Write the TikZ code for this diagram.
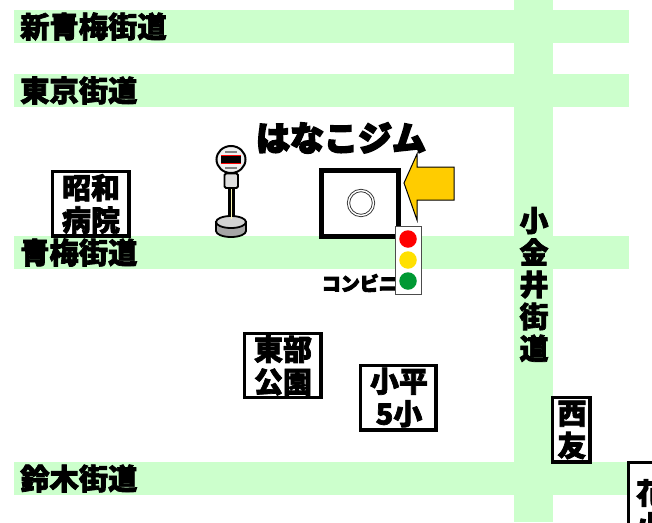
\documentclass[tikz,border=0pt]{standalone}
\usepackage{fontspec}
\newfontfamily\cjk[FakeBold=2.4]{Noto Sans CJK JP Black}
\newfontfamily\cjkh[FakeBold=5]{Noto Sans CJK JP Black}
\tikzset{
 road/.style={fill=roadc,draw=none},
 roadlabel/.style={anchor=west,inner sep=0pt,font=\cjk\fontsize{29.3}{29}\selectfont},
 placebox/.style={draw=black,line width=3.4pt,fill=white,inner sep=0pt},
 placetext/.style={inner sep=0pt,align=center,font=\cjk\fontsize{29}{32.5}\selectfont},
 lamp/.style={circle,minimum size=17.5pt,inner sep=0pt,draw=none}
}
\definecolor{roadc}{HTML}{CCFFCC}
\definecolor{arrowc}{HTML}{FFCC00}
\definecolor{lampy}{HTML}{FFE000}
\definecolor{lampg}{HTML}{009933}
\begin{document}
\begin{tikzpicture}[x=1pt,y=-1pt]
\useasboundingbox (0,0) rectangle (652,522);
\clip (0,0) rectangle (652,522);
\fill[white] (0,0) rectangle (652,522);
% roads
\fill[road] (14,10) rectangle (629,43);
\fill[road] (14,74) rectangle (629,107);
\fill[road] (14,236) rectangle (629,269);
\fill[road] (14,462) rectangle (629,495);
\fill[road] (514,0) rectangle (553,522);
% boxes
\draw[placebox] (52.5,171.5) rectangle (129,236);
\node[placetext] (hosp) at (91,204) {昭和\\病院};
\node[roadlabel] (r1) at (20,26.5) {新青梅街道};
\node[roadlabel] (r2) at (20,90.5) {東京街道};
\node[roadlabel] (r3) at (20,252.5) {青梅街道};
\node[roadlabel] (r4) at (20,478.5) {鈴木街道};
\node[placetext,font=\cjk\fontsize{29}{32}\selectfont] (r5) at (534,284.5) {小\\金\\井\\街\\道};
\draw[placebox] (244.5,333.5) rectangle (321,397.5);
\node[placetext] (park) at (283,365.5) {東部\\公園};
\draw[placebox] (360.5,365.5) rectangle (436,430);
\node[placetext] (school) at (399,397.5) {小平\\5小};
\draw[placebox] (552.5,397.5) rectangle (590,462);
\node[placetext] (seiyu) at (572,430) {西\\友};
\draw[placebox] (628.5,462.5) rectangle (670,540);
\node[placetext,anchor=north west] (hana) at (636,479) {花\\小};
% title
\node[inner sep=0pt,font=\cjkh\fontsize{34}{34}\selectfont] (title) at (341,138) {はなこジム};
% gym
\node[draw=black,line width=5.5pt,minimum width=77pt,minimum height=66pt,inner sep=0pt] (gym) at (360,203.5) {};
\node[circle,draw=black!80,double=white,double distance=1.4pt,line width=.9pt,minimum size=25pt,inner sep=0pt] (mark) at (361,203) {};
% arrow
\draw[fill=arrowc,draw=black,line width=1pt,line join=miter] (404,183) -- (417,154) -- (417,167) -- (454,167) -- (454,200) -- (417,200) -- (417,220) -- cycle;
% convenience
\node[anchor=east,inner sep=0pt,font=\cjkh\fontsize{19}{19}\selectfont] (conv) at (398,283) {コンビニ};
% traffic light
\node[draw=black!70,fill=white,line width=.6pt,minimum width=26pt,minimum height=68pt,inner sep=0pt] (light) at (408,260) {};
\node[lamp,fill=red] (lr) at (408,239) {};
\node[lamp,fill=lampy] (ly) at (408,260) {};
\node[lamp,fill=lampg] (lg) at (408,281) {};
% bus stop
\fill[black] (227.5,186) rectangle (235,224);
\fill[yellow!30] (230.7,186) rectangle (232.3,218);
\draw[fill=gray!70,draw=black,line width=1.8pt] (216,222) -- (216,231) arc[start angle=180,end angle=0,x radius=15,y radius=6] -- (246,222) -- cycle;
\draw[fill=gray!35,draw=black,line width=1.8pt] (231,222) ellipse[x radius=15,y radius=6];
\fill[yellow!30] (230.7,214) rectangle (232.3,219);
\draw[fill=gray!25,draw=black,line width=1.8pt,rounded corners=1.5pt] (224.5,173.5) rectangle (238,188);
\draw[fill=gray!12,draw=black,line width=2pt] (231,159.5) ellipse[x radius=14.5,y radius=13.5];
\fill[black] (221,156) rectangle (241,163);
\fill[red] (221,155) rectangle (241,156.3);
\fill[red] (221,162.5) rectangle (241,164);
\fill[gray] (225,151) rectangle (237,153);
\fill[gray] (225,167) rectangle (237,169);
\end{tikzpicture}
\end{document}
